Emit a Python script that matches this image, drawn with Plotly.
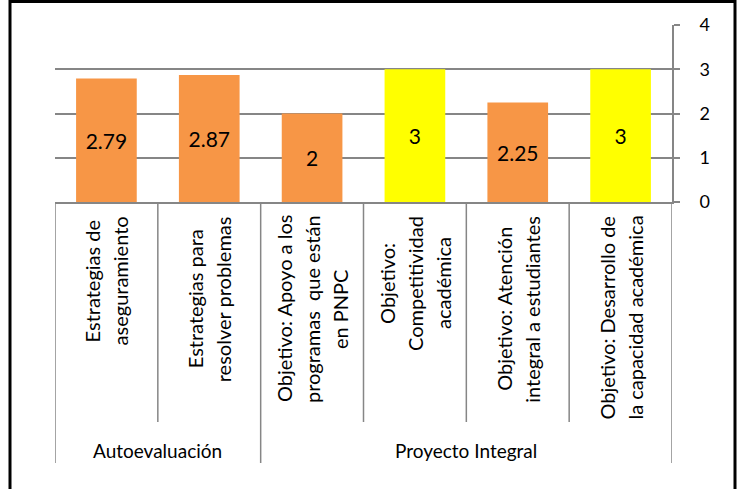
import plotly.graph_objects as go

# ---- data ----
cat_lines = [
    ["Estrategias de", "aseguramiento"],
    ["Estrategias para", "resolver problemas"],
    ["Objetivo: Apoyo a los", "programas\u00a0 que están", "en PNPC"],
    ["Objetivo:", "Competitividad", "académica"],
    ["Objetivo: Atención", "integral a estudiantes"],
    ["Objetivo: Desarrollo de", "la capacidad académica"],
]
values = [2.79, 2.87, 2, 3, 2.25, 3]
groups = ["Autoevaluación", "Proyecto Integral"]
group_spans = [(0, 1), (2, 5)]
highlight = [False, False, False, True, False, True]
y_ticks = [0, 1, 2, 3, 4]

categories = [" ".join(l) for l in cat_lines]

# ---- style ----
W, H = 738, 489
L, R, T, B = 55, 66, 25, 287
PW, PH = W - L - R, H - T - B
ORANGE, YELLOW = "#F79646", "#FFFF00"
GRID = "#868686"
FONT = "Lato, 'Open Sans', sans-serif"


def px_y(py):
    return (H - B - py) / PH


def px_x(px):
    return (px - L) / PW


bar_colors = [YELLOW if h else ORANGE for h in highlight]

fig = go.Figure(
    go.Bar(
        x=categories,
        y=values,
        marker=dict(color=bar_colors, line=dict(width=0)),
        text=[f"{v:g}" for v in values],
        textposition="inside",
        insidetextanchor="middle",
        textangle=0,
        constraintext="none",
        textfont=dict(family=FONT, size=21, color="black"),
        hoverinfo="skip",
    )
)

shapes = []
annotations = []

# category separators and group separators
group_bounds = set()
for a, b in group_spans:
    group_bounds.add(a - 0.5)
    group_bounds.add(b + 0.5)
for i in range(len(categories) + 1):
    xb = i - 0.5
    bottom = 463 if xb in group_bounds else 422
    shapes.append(dict(type="line", xref="x", yref="paper", x0=xb, x1=xb,
                       y0=0, y1=px_y(bottom), line=dict(color=GRID, width=1.5)))

# category labels (rotated)
label_center_px = [281, 299, 309, 283, 309, 318]
line_step = 28
for i, lines in enumerate(cat_lines):
    n = len(lines)
    for k, line in enumerate(lines):
        annotations.append(dict(
            x=i, xref="x", y=px_y(label_center_px[i]), yref="paper",
            text=line, textangle=-90, showarrow=False,
            xanchor="center", yanchor="middle",
            xshift=(k - (n - 1) / 2) * line_step,
            font=dict(family=FONT, size=20, color="black"),
        ))

# group labels
for g, (a, b) in zip(groups, group_spans):
    annotations.append(dict(
        x=(a + b) / 2, xref="x", y=px_y(450), yref="paper",
        text=g, showarrow=False, xanchor="center", yanchor="middle",
        font=dict(family=FONT, size=19, color="black"),
    ))

# outer black border
shapes.append(dict(type="rect", xref="paper", yref="paper",
                   x0=px_x(10), x1=px_x(735), y0=px_y(500), y1=px_y(1.5),
                   line=dict(color="black", width=3), fillcolor="rgba(0,0,0,0)"))

fig.update_layout(
    width=W, height=H,
    margin=dict(l=L, r=R, t=T, b=B, pad=0),
    paper_bgcolor="white", plot_bgcolor="white",
    bargap=0.41,
    showlegend=False,
    shapes=shapes,
    annotations=annotations,
    xaxis=dict(showticklabels=False, showgrid=False, zeroline=False,
               showline=True, linecolor=GRID, linewidth=2, ticks="",
               range=[-0.5, len(categories) - 0.5]),
    yaxis=dict(side="right", range=[0, 4], tickvals=y_ticks,
               showgrid=True, gridcolor=GRID, gridwidth=2, zeroline=False,
               showline=True, linecolor=GRID, linewidth=2,
               ticks="outside", ticklen=6, tickcolor=GRID, tickwidth=2,
               ticklabelstandoff=16,
               tickfont=dict(family=FONT, size=18, color="black")),
)

fig.write_html("out.html", config={"displayModeBar": False},
               post_script="document.body.style.margin='0';")
